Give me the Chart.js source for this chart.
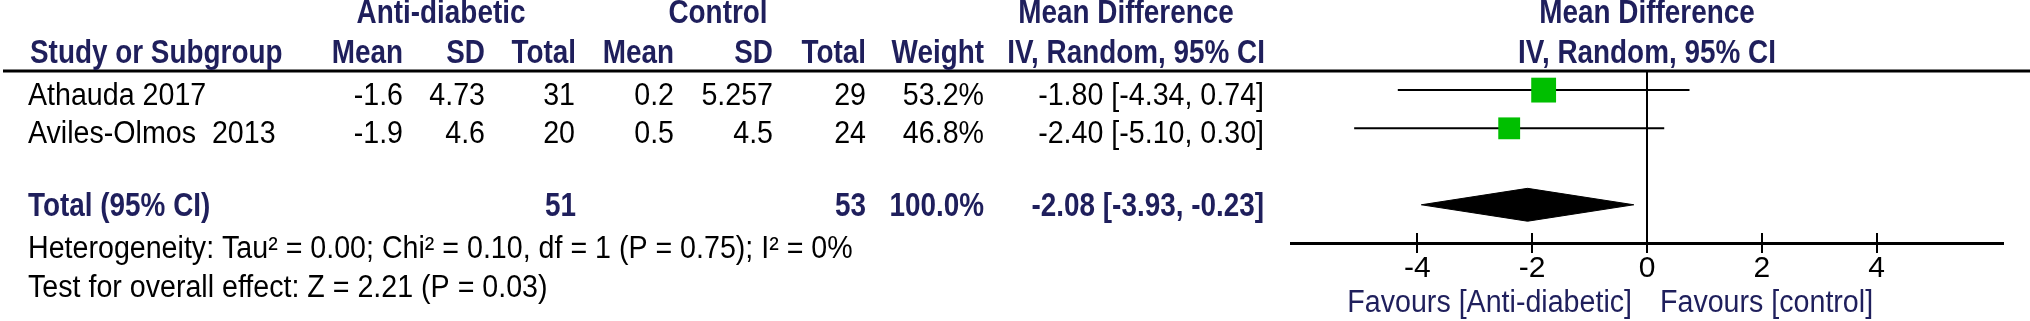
<!DOCTYPE html>
<html>
<head>
<meta charset="utf-8">
<script src="https://cdn.jsdelivr.net/npm/chart.js@4.4.1/dist/chart.umd.min.js"></script>
<style>
  html, body { margin: 0; padding: 0; background: #fff; }
  #wrap { width: 2030px; height: 321px; }
</style>
</head>
<body>
<div id="wrap"><canvas id="forest" width="2030" height="321"></canvas></div>
<script>
// study rows
const studies = ['Athauda 2017', 'Aviles-Olmos  2013'];
const antiMean = [-1.6, -1.9];
const antiSD = [4.73, 4.6];
const antiTotal = [31, 20];
const ctrlMean = [0.2, 0.5];
const ctrlSD = [5.257, 4.5];
const ctrlTotal = [29, 24];
const weights = [53.2, 46.8];
const meanDiff = [-1.80, -2.40];
const ciLow = [-4.34, -5.10];
const ciHigh = [0.74, 0.30];

// pooled result
const pooledAnti = 51;
const pooledCtrl = 53;
const pooledWeight = 100.0;
const pooledMD = -2.08;
const pooledLow = -3.93;
const pooledHigh = -0.23;
const heterogeneity = 'Heterogeneity: Tau\u00b2 = 0.00; Chi\u00b2 = 0.10, df = 1 (P = 0.75); I\u00b2 = 0%';
const overallTest = 'Test for overall effect: Z = 2.21 (P = 0.03)';

const tickValues = [-4, -2, 0, 2, 4];
const favoursLeft = 'Favours [Anti-diabetic]';
const favoursRight = 'Favours [control]';

// row positions on the y scale: studies at 0,1 then a gap, total at 3
const totalRow = 3;
const HEAD = '#1f1f5c';
const headFont = 'bold 33px "Liberation Sans", Arimo, Arial, sans-serif';
const bodyFont = '31px "Liberation Sans", Arimo, Arial, sans-serif';
const HEAD_SX = 0.845;   // squeeze to look like Arial Narrow
const BODY_SX = 0.923;

function ciText(md, lo, hi) {
  return md.toFixed(2) + ' [' + lo.toFixed(2) + ', ' + hi.toFixed(2) + ']';
}

const datasets = [];
studies.forEach((s, i) => {
  datasets.push({
    type: 'line',
    data: [{x: ciLow[i], y: i}, {x: ciHigh[i], y: i}],
    borderColor: '#000',
    borderWidth: 2,
    pointRadius: 0,
    order: 2
  });
});
datasets.push({
  type: 'line',
  showLine: false,
  data: studies.map((s, i) => ({x: meanDiff[i], y: i})),
  pointStyle: 'rect',
  pointRadius: weights.map(w => w * 0.33),
  backgroundColor: '#00bf00',
  borderWidth: 0,
  order: 0
});
datasets.push({
  type: 'line',
  data: [
    {x: pooledLow, y: totalRow},
    {x: pooledMD, y: totalRow - 0.43},
    {x: pooledHigh, y: totalRow},
    {x: pooledMD, y: totalRow + 0.43},
    {x: pooledLow, y: totalRow}
  ],
  borderColor: '#000',
  borderWidth: 1,
  backgroundColor: '#000',
  fill: 'shape',
  pointRadius: 0,
  order: 1
});

const tablePlugin = {
  id: 'table',
  afterDraw(chart) {
    const ctx = chart.ctx;
    const xs = chart.scales.x;
    const ys = chart.scales.y;
    const area = chart.chartArea;
    const zero = xs.getPixelForValue(0);
    ctx.save();

    // header rule
    ctx.strokeStyle = '#000';
    ctx.lineWidth = 3;
    ctx.beginPath();
    ctx.moveTo(3, area.top);
    ctx.lineTo(2030, area.top);
    ctx.stroke();

    // upper half of tick marks
    ctx.lineWidth = 2;
    tickValues.forEach(v => {
      const px = Math.round(xs.getPixelForValue(v));
      ctx.beginPath();
      ctx.moveTo(px, area.bottom - 10);
      ctx.lineTo(px, area.bottom);
      ctx.stroke();
    });

    function txt(t, x, y, align, bold, color) {
      ctx.save();
      ctx.font = bold ? headFont : bodyFont;
      ctx.fillStyle = color;
      ctx.textAlign = align;
      ctx.textBaseline = 'alphabetic';
      ctx.translate(x, y);
      ctx.scale(bold ? HEAD_SX : BODY_SX, 1);
      ctx.fillText(t, 0, 0);
      ctx.restore();
    }

    // headers
    const h1 = area.top - 48, h2 = area.top - 8;
    txt('Anti-diabetic', 441, h1, 'center', true, HEAD);
    txt('Control', 718, h1, 'center', true, HEAD);
    txt('Mean Difference', 1126, h1, 'center', true, HEAD);
    txt('Mean Difference', zero, h1, 'center', true, HEAD);
    txt('Study or Subgroup', 30, h2, 'left', true, HEAD);
    txt('Mean', 403, h2, 'right', true, HEAD);
    txt('SD', 485, h2, 'right', true, HEAD);
    txt('Total', 576, h2, 'right', true, HEAD);
    txt('Mean', 674, h2, 'right', true, HEAD);
    txt('SD', 773, h2, 'right', true, HEAD);
    txt('Total', 866, h2, 'right', true, HEAD);
    txt('Weight', 984, h2, 'right', true, HEAD);
    txt('IV, Random, 95% CI', 1265, h2, 'right', true, HEAD);
    txt('IV, Random, 95% CI', zero, h2, 'center', true, HEAD);

    // study rows
    studies.forEach((s, i) => {
      const y = ys.getPixelForValue(i) + 15;
      txt(s, 28, y, 'left', false, '#000');
      txt(String(antiMean[i]), 403, y, 'right', false, '#000');
      txt(String(antiSD[i]), 485, y, 'right', false, '#000');
      txt(String(antiTotal[i]), 575, y, 'right', false, '#000');
      txt(String(ctrlMean[i]), 674, y, 'right', false, '#000');
      txt(String(ctrlSD[i]), 773, y, 'right', false, '#000');
      txt(String(ctrlTotal[i]), 866, y, 'right', false, '#000');
      txt(weights[i].toFixed(1) + '%', 984, y, 'right', false, '#000');
      txt(ciText(meanDiff[i], ciLow[i], ciHigh[i]), 1264, y, 'right', false, '#000');
    });

    // pooled row
    const ty = ys.getPixelForValue(totalRow) + 11;
    txt('Total (95% CI)', 28, ty, 'left', true, HEAD);
    txt(String(pooledAnti), 576, ty, 'right', true, HEAD);
    txt(String(pooledCtrl), 866, ty, 'right', true, HEAD);
    txt(pooledWeight.toFixed(1) + '%', 984, ty, 'right', true, HEAD);
    txt(ciText(pooledMD, pooledLow, pooledHigh), 1264, ty, 'right', true, HEAD);
    txt(heterogeneity, 28, area.bottom + 15, 'left', false, '#000');
    txt(overallTest, 28, area.bottom + 54, 'left', false, '#000');

    // favours labels
    txt(favoursLeft, zero - 15, area.bottom + 69, 'right', false, HEAD);
    txt(favoursRight, zero + 13, area.bottom + 69, 'left', false, HEAD);
    ctx.restore();
  }
};

new Chart(document.getElementById('forest'), {
  type: 'line',
  data: { datasets: datasets },
  options: {
    responsive: false,
    devicePixelRatio: 1,
    animation: false,
    layout: { padding: { left: 1291, right: 27, top: 71, bottom: 0 } },
    plugins: { legend: { display: false }, tooltip: { enabled: false } },
    elements: { line: { tension: 0 } },
    scales: {
      x: {
        type: 'linear',
        min: -6.2,
        max: 6.2,
        afterBuildTicks: (scale) => { scale.ticks = tickValues.map(v => ({value: v})); },
        afterFit: (scale) => { scale.height = 78; },
        border: { display: true, color: '#000', width: 3 },
        grid: {
          color: (c) => (c.tick && c.tick.value === 0 ? '#000' : 'rgba(0,0,0,0)'),
          lineWidth: 2,
          drawTicks: true,
          tickLength: 10,
          tickColor: '#000'
        },
        ticks: {
          color: '#000',
          padding: -2,
          font: { family: '"Liberation Sans", Arimo, Arial, sans-serif', size: 30 },
          callback: (v) => String(v)
        }
      },
      y: {
        type: 'linear',
        display: false,
        reverse: true,
        min: -0.5,
        max: totalRow + 1
      }
    }
  },
  plugins: [tablePlugin]
});
</script>
</body>
</html>
